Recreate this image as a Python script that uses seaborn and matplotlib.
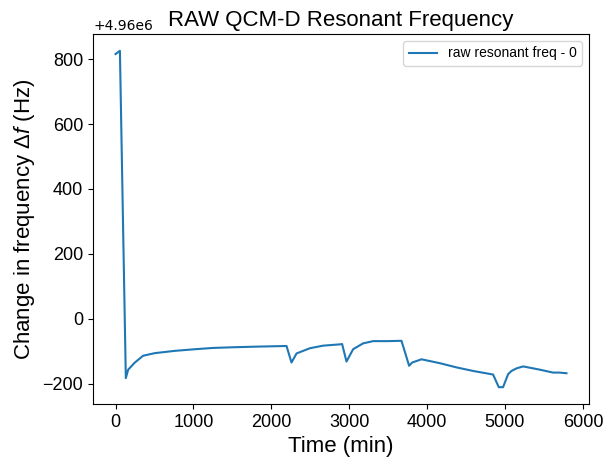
import matplotlib
matplotlib.use("Agg")
import matplotlib.pyplot as plt
import seaborn as sns
import pandas as pd
import numpy as np

OFFSET = 4.96e6
time_min = [0, 56, 132, 162, 248, 354, 505, 761, 1018, 1253, 1500, 1810, 2000, 2195,
            2259, 2324, 2494, 2665, 2879, 2909, 2965, 3050, 3178, 3307, 3500, 3671,
            3769, 3808, 3928, 4163, 4377, 4591, 4847, 4920, 4975, 5040, 5083, 5148,
            5233, 5447, 5617, 5700, 5789]
delta_hz = [816, 826, -183, -157, -135, -114, -106, -99, -94, -90, -88, -86, -85, -84,
            -135, -107, -91, -83, -79, -78, -132, -94, -76, -69, -69, -68,
            -145, -135, -125, -137, -150, -161, -172, -211, -211, -171, -161, -153,
            -147, -157, -166, -166, -168]
series_label = "raw resonant freq - 0"

plt.rcParams['font.family'] = ['Liberation Sans', 'DejaVu Sans']
plt.rcParams['mathtext.fontset'] = 'custom'
plt.rcParams['mathtext.rm'] = 'Liberation Sans'
plt.rcParams['mathtext.it'] = 'Liberation Sans:italic'

df = pd.DataFrame({"time": time_min, "freq": np.array(delta_hz, dtype=float) + OFFSET})

fig = plt.figure(figsize=(6.14, 4.67), dpi=100)
ax = fig.add_axes([93/614, (467-404)/467, 496/614, 370/467])
sns.lineplot(data=df, x="time", y="freq", ax=ax, color="#1f77b4", linewidth=1.5,
             label=series_label)
ax.ticklabel_format(axis='y', useOffset=OFFSET, style='plain')
ax.set_title("RAW QCM-D Resonant Frequency", fontsize=16)
ax.set_xlabel("Time (min)", fontsize=16)
ax.set_ylabel(r"Change in frequency $\Delta f$ (Hz)", fontsize=16)
ax.tick_params(labelsize=13)
ax.yaxis.get_offset_text().set_family('DejaVu Sans')
ax.yaxis.get_offset_text().set_fontsize(10)
ax.legend(loc="upper right", fontsize=10)
fig.savefig("out.png", dpi=100)
